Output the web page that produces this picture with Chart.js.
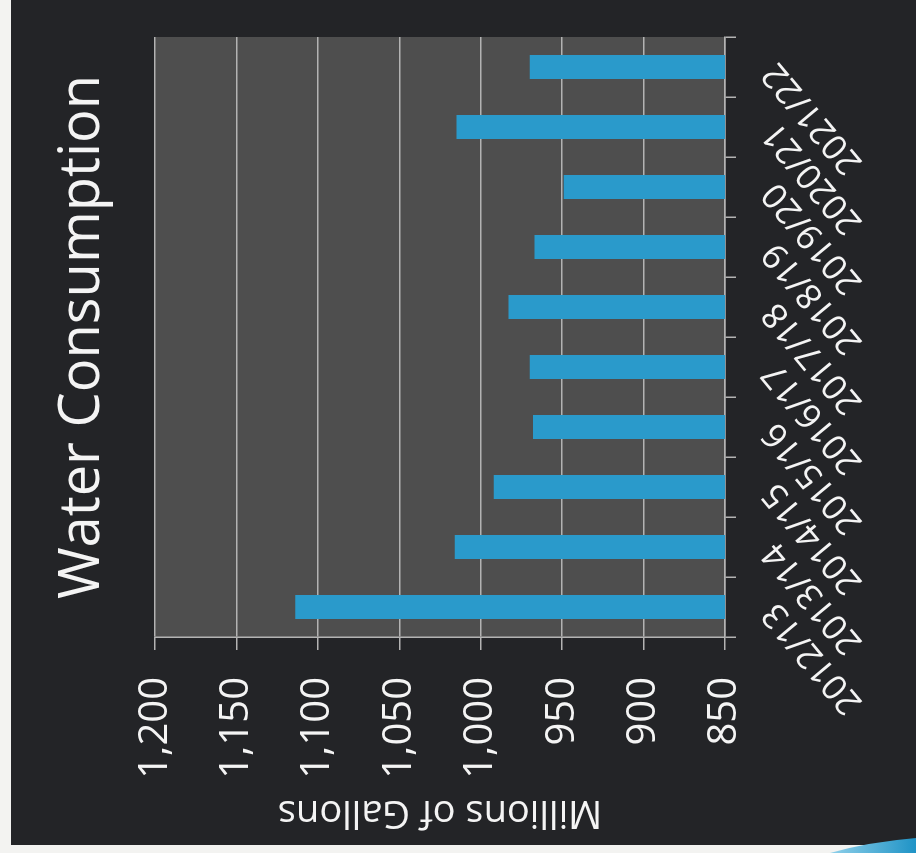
<!DOCTYPE html>
<html>
<head>
<meta charset="utf-8">
<title>Water Consumption</title>
<script src="https://cdn.jsdelivr.net/npm/chart.js@4.4.1/dist/chart.umd.min.js"></script>
<style>
  html, body { margin: 0; padding: 0; width: 916px; height: 853px; overflow: hidden; background: #f3f3f1; }
  #panel { position: absolute; left: 11px; top: 0; width: 905px; height: 845px; background: #232427; }
  /* laid out as a plain column chart, then turned a quarter left */
  #turn { position: absolute; left: 0; top: 0; width: 853px; height: 916px;
          transform-origin: 0 0; transform: translate(0, 853px) rotate(-90deg); }
  #swoosh { position: absolute; left: 0; top: 0; }
</style>
</head>
<body>
<div id="panel"></div>
<div id="turn"><canvas id="water-chart" width="853" height="916"></canvas></div>
<svg id="swoosh" width="916" height="853">
  <defs>
    <linearGradient id="sw" x1="0" y1="0" x2="1" y2="0">
      <stop offset="0" stop-color="#8fd0ea"/>
      <stop offset="1" stop-color="#1f93c6"/>
    </linearGradient>
  </defs>
  <path d="M830 853 Q868 842 916 838 L916 853 Z" fill="url(#sw)"/>
</svg>
<script>
// fiscal years and consumption (millions of gallons)
const years = ['2012/13', '2013/14', '2014/15', '2015/16', '2016/17',
               '2017/18', '2018/19', '2019/20', '2020/21', '2021/22'];
const gallons = [1114, 1016, 992, 968, 970, 983, 967, 949, 1015, 970];

// value axis range and step
const axisMin = 850;
const axisMax = 1200;
const axisStep = 50;

const textColor = '#f4f4f4';
const lineColor = '#b3b3b3';
const fontFamily = "'Open Sans', 'Noto Sans', sans-serif";

// gray fill behind the plot
const plotBackground = {
    id: 'plotBackground',
    beforeDraw(chart) {
        const { ctx, chartArea } = chart;
        ctx.save();
        ctx.fillStyle = '#4e4e4e';
        ctx.fillRect(chartArea.left, chartArea.top, chartArea.width, chartArea.height);
        ctx.restore();
    }
};

const ctx = document.getElementById('water-chart').getContext('2d');
new Chart(ctx, {
    type: 'bar',
    data: {
        labels: years,
        datasets: [{
            data: gallons,
            backgroundColor: '#2a9acb',
            categoryPercentage: 1.0,
            barPercentage: 0.4
        }]
    },
    options: {
        responsive: false,
        animation: false,
        layout: { padding: { left: 0, right: 37, top: 0, bottom: 0 } },
        plugins: {
            legend: { display: false },
            tooltip: { enabled: false },
            title: {
                display: true,
                text: 'Water Consumption',
                color: textColor,
                fullSize: false,
                font: { family: fontFamily, size: 56, weight: 'normal' },
                padding: { top: 49, bottom: 39 }
            }
        },
        scales: {
            x: {
                grid: {
                    display: true,
                    drawOnChartArea: false,
                    offset: true,
                    color: lineColor,
                    lineWidth: 1.5,
                    tickLength: 11
                },
                border: { display: true, color: lineColor, width: 1.5 },
                ticks: {
                    color: textColor,
                    font: { family: fontFamily, size: 35 },
                    minRotation: 40,
                    maxRotation: 40,
                    autoSkip: false,
                    padding: 18
                },
                afterFit(scale) { scale.height = 191; }
            },
            y: {
                min: axisMin,
                max: axisMax,
                ticks: {
                    stepSize: axisStep,
                    color: textColor,
                    font: { family: fontFamily, size: 40 },
                    padding: 27
                },
                grid: { color: lineColor, lineWidth: 1.5, tickLength: 13 },
                border: { display: true, color: lineColor, width: 1.5 },
                title: {
                    display: true,
                    text: 'Millions of Gallons',
                    color: textColor,
                    font: { family: fontFamily, size: 38 },
                    padding: { top: 18, bottom: 0 }
                },
                afterFit(scale) { scale.width = 216; }
            }
        }
    },
    plugins: [plotBackground]
});
</script>
</body>
</html>
